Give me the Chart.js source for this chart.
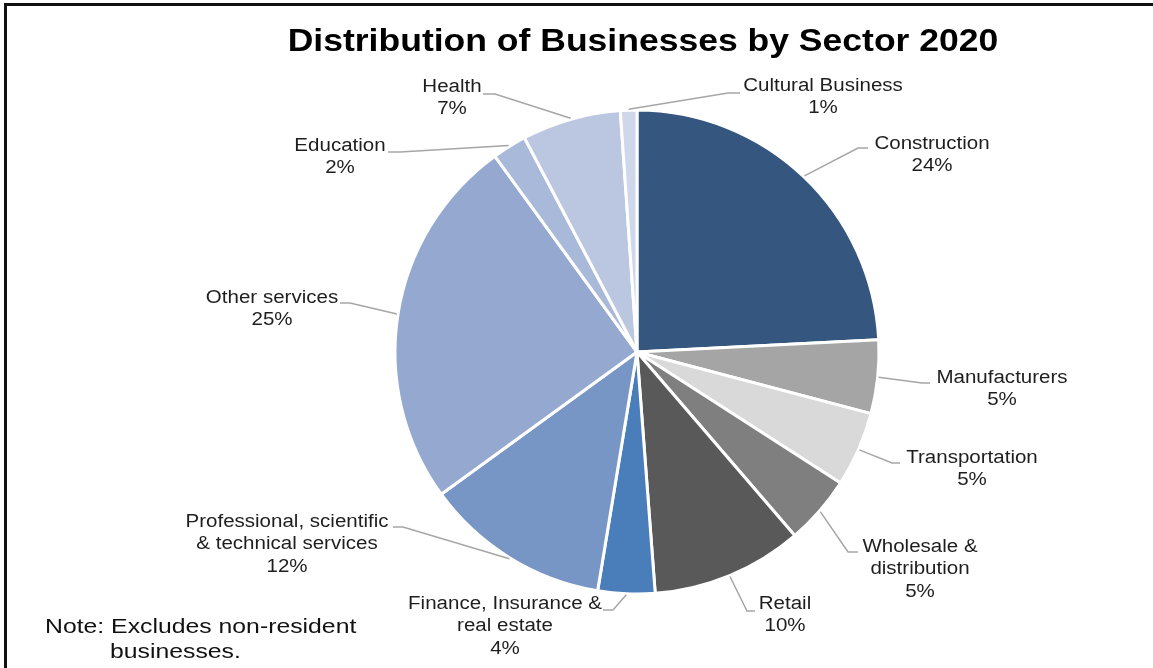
<!DOCTYPE html>
<html>
<head>
<meta charset="utf-8">
<script src="https://cdn.jsdelivr.net/npm/chart.js@4.4.1/dist/chart.umd.min.js"></script>
<style>
  html, body { margin: 0; padding: 0; background: #fff; overflow: hidden; }
  #wrap { position: relative; width: 1153px; height: 668px; }
  #frame { position: absolute; left: 4px; top: 3px; width: 1170px; height: 690px; border: 3px solid #111; box-sizing: border-box; pointer-events: none; }
</style>
</head>
<body>
<div id="wrap">
  <canvas id="chartCanvas" width="1153" height="668"></canvas>
  <div id="frame"></div>
</div>
<script>
// Sectors, clockwise from 12 o'clock
const sectors = [
  ['Construction'],
  ['Manufacturers'],
  ['Transportation'],
  ['Wholesale &', 'distribution'],
  ['Retail'],
  ['Finance, Insurance &', 'real estate'],
  ['Professional, scientific', '& technical services'],
  ['Other services'],
  ['Education'],
  ['Health'],
  ['Cultural Business']
];

// Share of businesses (%)
const shares = [24.2, 4.9, 5.0, 4.6, 10.1, 3.8, 12.4, 25.0, 2.3, 6.6, 1.1];

const sliceColors = [
  '#34567f', '#a5a5a5', '#d9d9d9', '#7f7f7f', '#595959', '#4a7ebb',
  '#7896c5', '#95a9d0', '#a9b9d9', '#bbc7e0', '#cfd7ea'
];

const chartTitle = 'Distribution of Businesses by Sector 2020';
const noteLines = ['Note: Excludes non-resident', 'businesses.'];

// label placement: [text centre x, first line y, leader end x, leader end y, elbow x]
const labelSpots = [
  [932, 144, 868, 148, 858],
  [1002, 378, 930, 383, 922],
  [972, 458, 900, 463, 892],
  [920, 547, 858, 552, 848],
  [785, 604, 755, 611, 747],
  [505, 604, 603, 610, 613],
  [287, 522, 393, 527, 403],
  [272, 298, 340, 303, 350],
  [340, 146, 388, 152, 400],
  [452, 87, 483, 94, 495],
  [823, 86, 740, 93, 728]
];

const fontFamily = '"Liberation Sans", Arial, sans-serif';
const lineGap = 22.5;

// text stretched horizontally around its anchor
function wideText(ctx, text, x, y, sx) {
  ctx.save();
  ctx.translate(x, y);
  ctx.scale(sx, 1);
  ctx.fillText(text, 0, 0);
  ctx.restore();
}

// Title, outside labels with elbow leader lines, footnote
const leaderLabels = {
  id: 'leaderLabels',
  afterDatasetsDraw(chart) {
    const ctx = chart.ctx;
    const meta = chart.getDatasetMeta(0);
    const values = chart.data.datasets[0].data;
    const total = values.reduce((a, b) => a + b, 0);

    ctx.save();
    ctx.font = 'bold 32px ' + fontFamily;
    ctx.fillStyle = '#000';
    ctx.textAlign = 'center';
    ctx.textBaseline = 'alphabetic';
    wideText(ctx, chartTitle, 643, 51, 1.11);

    meta.data.forEach((arc, i) => {
      const p = arc.getProps(['x', 'y', 'startAngle', 'endAngle', 'outerRadius'], true);
      const mid = (p.startAngle + p.endAngle) / 2;
      const sx = p.x + Math.cos(mid) * (p.outerRadius + 1);
      const sy = p.y + Math.sin(mid) * (p.outerRadius + 1);
      const [tx, ty, ex, ey, kx] = labelSpots[i];

      ctx.strokeStyle = '#a6a6a6';
      ctx.lineWidth = 1.5;
      ctx.beginPath();
      ctx.moveTo(sx, sy);
      ctx.lineTo(kx, ey);
      ctx.lineTo(ex, ey);
      ctx.stroke();

      const pct = Math.round(values[i] / total * 100) + '%';
      const lines = chart.data.labels[i].concat(pct);
      ctx.font = '18px ' + fontFamily;
      ctx.fillStyle = '#1e1e1e';
      ctx.textAlign = 'center';
      ctx.textBaseline = 'middle';
      lines.forEach((t, k) => wideText(ctx, t, tx, ty + k * lineGap, 1.14));
    });

    ctx.font = '21px ' + fontFamily;
    ctx.fillStyle = '#111';
    ctx.textAlign = 'left';
    ctx.textBaseline = 'middle';
    wideText(ctx, noteLines[0], 45, 627, 1.18);
    wideText(ctx, noteLines[1], 110, 652, 1.18);
    ctx.restore();
  }
};

const config = {
  type: 'pie',
  data: {
    labels: sectors,
    datasets: [{
      data: shares,
      backgroundColor: sliceColors,
      borderColor: '#ffffff',
      borderWidth: 3,
      radius: 242
    }]
  },
  options: {
    responsive: false,
    animation: false,
    layout: {
      padding: { left: 121, right: 0, top: 64, bottom: 28 }
    },
    plugins: {
      legend: { display: false },
      tooltip: { enabled: false },
      title: { display: false }
    }
  },
  plugins: [leaderLabels]
};

const ctx = document.getElementById('chartCanvas').getContext('2d');
const chart = new Chart(ctx, config);
</script>
</body>
</html>
